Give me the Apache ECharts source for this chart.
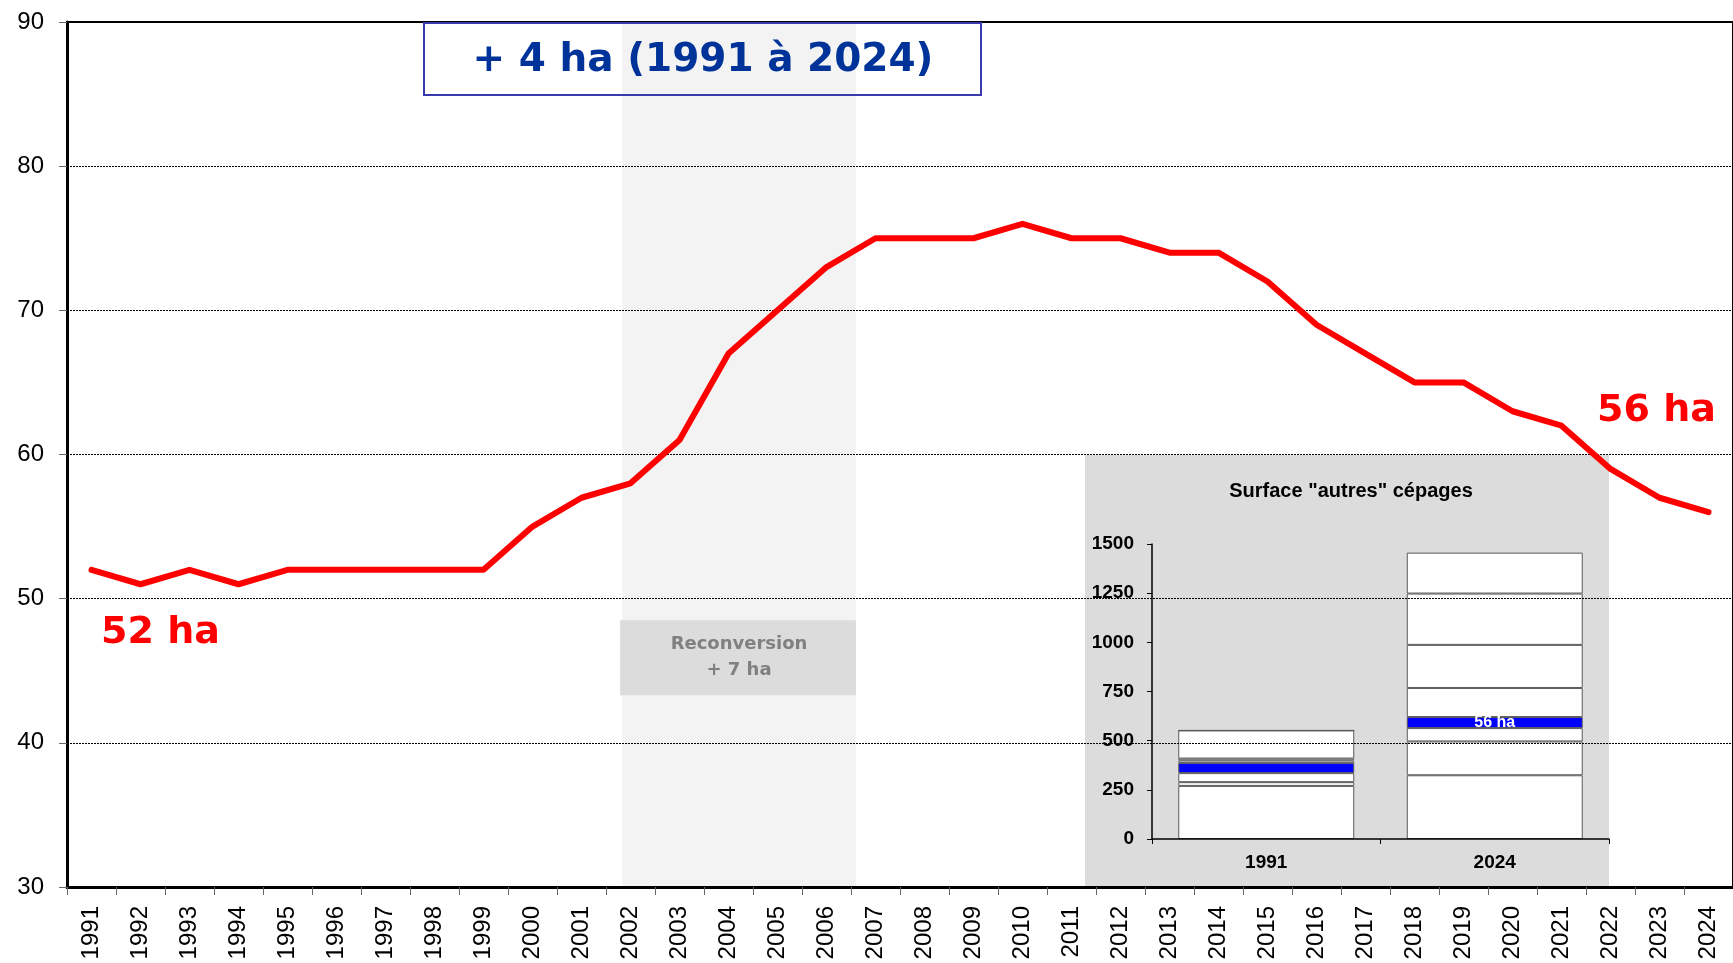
<!DOCTYPE html>
<html>
<head>
<meta charset="utf-8">
<script src="https://cdn.jsdelivr.net/npm/echarts@6/dist/echarts.min.js"></script>
<style>
html,body{margin:0;padding:0;background:#fff;}
#chart{width:1733px;height:963px;}
</style>
</head>
<body>
<div id="chart"></div>
<script>
const years = ['1991','1992','1993','1994','1995','1996','1997','1998','1999','2000','2001','2002','2003','2004','2005','2006','2007','2008','2009','2010','2011','2012','2013','2014','2015','2016','2017','2018','2019','2020','2021','2022','2023','2024'];
const surface = [52,51,52,51,52,52,52,52,52,55,57,58,61,67,70,73,75,75,75,76,75,75,74,74,72,69,67,65,65,63,62,59,57,56];
const yTicks = { min: 30, max: 90, interval: 10 };

// Reconversion period
const reconvYears = ['2002','2006'];
const reconvText = ['Reconversion', '+ 7 ha'];
const headline = '+ 4 ha (1991 à 2024)';

// Inset: stacked surfaces of "autres" cépages
const insetTitle = 'Surface "autres" cépages';
const insetCats = ['1991','2024'];
const insetLayers = [
  [270, 324],
  [19, 172],
  [46, 68],
  [52, 56],
  [12, 148],
  [10, 219],
  [143, 261],
  [0, 208]
];
const insetHighlight = 3;
const insetTicks = { min: 0, max: 1500, interval: 250 };

const chart = echarts.init(document.getElementById('chart'));

const FONT = 'Liberation Sans, Arial, sans-serif';
const BOLDFONT = 'DejaVu Sans, Verdana, sans-serif';

const insetSeries = insetLayers.map((vals, li) => ({
  type: 'bar',
  xAxisIndex: 1, yAxisIndex: 1,
  stack: 'autres',
  z: 2,
  barCategoryGap: '23%',
  silent: true,
  data: vals.map((v, ci) => {
    const item = { value: v };
    if (li === insetHighlight && ci === 1) {
      item.label = {
        show: true, position: 'inside', formatter: surface[surface.length - 1] + ' ha',
        color: '#fff', fontWeight: 'bold', fontSize: 16, fontFamily: FONT
      };
    }
    return item;
  }),
  itemStyle: {
    color: li === insetHighlight ? '#0000ff' : '#ffffff',
    borderColor: '#5a5a5a',
    borderWidth: 1
  }
}));

const option = {
  animation: false,
  backgroundColor: '#fff',
  grid: [
    { left: 67, top: 22, width: 1683, height: 865, show: true, borderColor: '#000', borderWidth: 2, backgroundColor: 'transparent' },
    { left: 1152, top: 544, width: 457, height: 295 }
  ],
  graphic: [
    { type: 'rect', z: 1, shape: { x: 1085, y: 455, width: 524, height: 432 }, style: { fill: '#dcdcdc' }, silent: true },
    { type: 'text', z: 3, style: { text: insetTitle, x: 1351, y: 491, align: 'center', verticalAlign: 'middle',
      fontSize: 20, fontWeight: 'bold', fontFamily: FONT, fill: '#000' } },
    { type: 'rect', z: 6, shape: { x: 424, y: 23, width: 557, height: 72 }, style: { fill: 'none', stroke: '#3a3aae', lineWidth: 2 } },
    { type: 'text', z: 6, style: { text: headline, x: 703, y: 61, align: 'center', verticalAlign: 'middle',
      fontSize: 39, fontWeight: 'bold', fontFamily: BOLDFONT, fill: '#003399' } }
  ],
  xAxis: [
    {
      type: 'category', gridIndex: 0, data: years, boundaryGap: true, z: 4,
      axisLine: { lineStyle: { color: '#000', width: 3 } },
      axisTick: { show: true, length: 8, lineStyle: { color: '#666', width: 1 } },
      axisLabel: { rotate: 90, margin: 19, fontSize: 24, color: '#000', fontFamily: FONT, interval: 0 },
      splitLine: { show: false }
    },
    {
      type: 'category', gridIndex: 1, data: insetCats, z: 3,
      axisLine: { lineStyle: { color: '#000', width: 1.5 } },
      axisTick: { show: true, length: 5, lineStyle: { color: '#000' } },
      axisLabel: { margin: 14, fontSize: 19, fontWeight: 'bold', color: '#000', fontFamily: FONT }
    }
  ],
  yAxis: [
    {
      type: 'value', gridIndex: 0, min: yTicks.min, max: yTicks.max, interval: yTicks.interval, z: 4,
      axisLine: { show: true, lineStyle: { color: '#000', width: 3 } },
      axisTick: { show: true, length: 8, lineStyle: { color: '#666', width: 1 } },
      axisLabel: { margin: 23, fontSize: 24, color: '#000', fontFamily: FONT },
      splitLine: { show: true, lineStyle: { color: '#000', width: 1, type: [2, 1] } }
    },
    {
      type: 'value', gridIndex: 1, min: insetTicks.min, max: insetTicks.max, interval: insetTicks.interval, z: 3,
      axisLine: { show: true, lineStyle: { color: '#000', width: 1.5 } },
      axisTick: { show: true, length: 5, lineStyle: { color: '#000' } },
      axisLabel: { margin: 18, fontSize: 19, fontWeight: 'bold', color: '#000', fontFamily: FONT, formatter: v => String(v) },
      splitLine: { show: false }
    }
  ],
  series: [
    {
      type: 'custom', xAxisIndex: 0, yAxisIndex: 0, z: 0, silent: true,
      data: [[years.indexOf(reconvYears[0]), years.indexOf(reconvYears[1])]],
      encode: { x: [0, 1] },
      renderItem: function (params, api) {
        const w = api.size([1, 0])[0];
        const pTop = api.coord([api.value(0), yTicks.max]);
        const pBot = api.coord([api.value(1), yTicks.min]);
        const x0 = pTop[0] - w * 0.17;
        const x1 = pBot[0] + w * 0.6;
        const bTop = api.coord([api.value(0), 48.5])[1];
        const bBot = api.coord([api.value(0), 43.3])[1];
        return {
          type: 'group',
          children: [
            { type: 'rect', shape: { x: x0, y: pTop[1], width: x1 - x0, height: pBot[1] - pTop[1] }, style: { fill: '#f3f3f3' } },
            { type: 'rect', shape: { x: x0 - 2, y: bTop, width: x1 - x0 + 2, height: bBot - bTop }, style: { fill: '#dcdcdc' } },
            { type: 'text', style: { text: reconvText.join('\n'), x: (x0 + x1) / 2, y: (bTop + bBot) / 2,
              align: 'center', verticalAlign: 'middle', lineHeight: 26,
              fontSize: 18, fontWeight: 'bold', fontFamily: BOLDFONT, fill: '#808080' } }
          ]
        };
      }
    },
    ...insetSeries,
    {
      type: 'line', xAxisIndex: 0, yAxisIndex: 0, z: 5,
      data: surface,
      showSymbol: false, symbol: 'none',
      lineStyle: { color: '#ff0000', width: 6, join: 'round', cap: 'round' },
      markPoint: {
        symbol: 'rect', symbolSize: 1, itemStyle: { color: 'rgba(0,0,0,0)' },
        label: { show: true, position: 'inside', color: '#ff0000', fontSize: 38, fontWeight: 'bold', fontFamily: BOLDFONT },
        data: [
          { coord: [0, surface[0]], value: surface[0], label: { formatter: surface[0] + ' ha', offset: [69, 63] } },
          { coord: [surface.length - 1, surface[surface.length - 1]], value: surface[surface.length - 1],
            label: { formatter: surface[surface.length - 1] + ' ha', offset: [-52, -101] } }
        ]
      }
    }
  ]
};
chart.setOption(option);
</script>
</body>
</html>
